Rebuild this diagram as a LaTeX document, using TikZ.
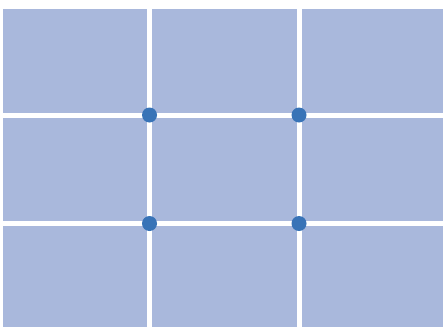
\documentclass[tikz,border=0pt]{standalone}
\definecolor{panelblue}{RGB}{169,184,220}
\definecolor{dotblue}{RGB}{56,115,183}
\begin{document}
\begin{tikzpicture}[x=1pt,y=-1pt]
\useasboundingbox (0,0) rectangle (443,327);
\fill[panelblue] (3,9) rectangle (443,327);
% white grid lines
\foreach \gx in {149.5,299} \draw[white, line width=5pt] (\gx,9) -- (\gx,327);
\foreach \gy in {115,223.5} \draw[white, line width=5pt] (3,\gy) -- (443,\gy);
% dots at the inner crossings
\foreach \gx in {149.5,299}
  \foreach \gy in {115,223.5}
    \fill[dotblue] (\gx,\gy) circle (7.5pt);
\end{tikzpicture}
\end{document}
